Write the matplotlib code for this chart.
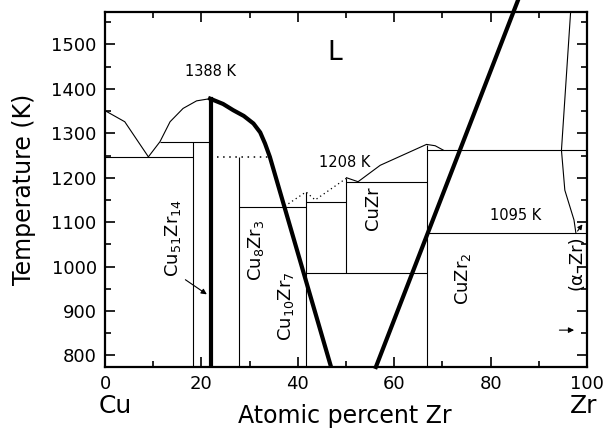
import numpy as np
import matplotlib
matplotlib.use("Agg")
import matplotlib.pyplot as plt
from matplotlib.ticker import MultipleLocator

# Cu-Zr phase diagram
# liquidus, Cu side to first eutectic
liq_cu_x = [0, 4.1, 9.0]
liq_cu_T = [1351, 1326, 1247]
# liquidus up to the Cu51Zr14 congruent point
liq_51_x = [9.0, 11.4, 13.5, 16.2, 19.0, 21.8]
liq_51_T = [1247, 1281, 1326, 1356, 1373, 1378]
# thick line (left), from the Cu51Zr14 peak downward
thick_l_x = [21.8, 24.5, 26.6, 28.8, 30.8, 32.2, 33.2, 34.2, 46.9]
thick_l_T = [1378, 1366, 1352, 1339, 1322, 1302, 1277, 1247, 774]
# thick line (right)
thick_r_x = [56.2, 85.7]
thick_r_T = [774, 1600]
# dotted liquidus part
liq_dot_x = [37.3, 41.7, 43.6, 50.1]
liq_dot_T = [1136, 1168, 1150, 1199]
# thin liquidus CuZr -> CuZr2
liq_mid_x = [50.1, 52.5, 57.1, 66.7, 68.5, 70.2]
liq_mid_T = [1200, 1191, 1228, 1275, 1272, 1262]
# Zr-side line
liq_zr_x = [96.6, 94.7, 95.4, 97.3, 97.7]
liq_zr_T = [1573, 1262, 1172, 1105, 1075]

# horizontal invariants (x start, x end, T)
h_x0 = [0, 11.4, 27.9, 41.7, 50.1, 41.7, 66.9, 66.9]
h_x1 = [18.3, 21.8, 41.7, 50.1, 66.9, 66.9, 100, 100]
h_T = [1247, 1281, 1133, 1146, 1190, 985, 1262, 1075]
# dotted invariant
hd_x = [23.2, 33.8]
hd_T = [1247, 1247]
# vertical compound lines (x, T bottom, T top)
v_x = [18.3, 27.9, 41.7, 50.1, 66.9]
v_T0 = [774, 774, 774, 985, 774]
v_T1 = [1281, 1247, 1168, 1200, 1273]
# Cu51Zr14 (thick)
c51_x = 21.9
c51_T = [774, 1378]

W, H = 607, 433
fig = plt.figure(figsize=(W / 100, H / 100), dpi=100)
ax = fig.add_axes([105 / W, 1 - 367 / H, (587 - 105) / W, (367 - 12) / H])

thin = dict(color="k", lw=0.8)
ax.plot(liq_cu_x, liq_cu_T, **thin)
ax.plot(liq_51_x, liq_51_T, **thin)
ax.plot(liq_mid_x, liq_mid_T, **thin)
ax.plot(liq_zr_x, liq_zr_T, **thin)
ax.plot(liq_dot_x, liq_dot_T, color="k", lw=0.9, ls=(0, (1, 2.5)))
ax.plot(hd_x, hd_T, color="k", lw=1.1, ls=(0, (1, 3)))
ax.hlines(h_T, h_x0, h_x1, **thin)
ax.vlines(v_x, v_T0, v_T1, **thin)

ax.plot([c51_x, c51_x], c51_T, color="k", lw=3)
ax.plot(thick_l_x, thick_l_T, color="k", lw=3, solid_joinstyle="round")
ax.plot(thick_r_x, thick_r_T, color="k", lw=3, clip_on=False)

# arrows
ax.annotate("", xy=(21.6, 934), xytext=(16.2, 974),
            arrowprops=dict(arrowstyle="-|>", color="k", lw=0.8, mutation_scale=8))
ax.annotate("", xy=(97.9, 857), xytext=(93.7, 857),
            arrowprops=dict(arrowstyle="-|>", color="k", lw=0.8, mutation_scale=8))
ax.annotate("", xy=(99.4, 1100), xytext=(97.7, 1075),
            arrowprops=dict(arrowstyle="-|>", color="k", lw=0.8, mutation_scale=7))

ax.set_xlim(0, 100)
ax.set_ylim(774, 1573)
ax.xaxis.set_major_locator(MultipleLocator(20))
ax.xaxis.set_minor_locator(MultipleLocator(10))
ax.yaxis.set_major_locator(MultipleLocator(100))
ax.yaxis.set_minor_locator(MultipleLocator(50))
ax.set_yticks(range(800, 1501, 100))
ax.tick_params(which="both", direction="in", top=True, right=True,
               labelsize=13, width=1.2)
ax.tick_params(which="major", length=7, pad=6)
ax.tick_params(which="minor", length=4)
for s in ax.spines.values():
    s.set_linewidth(1.6)

ax.set_ylabel("Temperature (K)", fontsize=17, labelpad=11)
fig.text(345 / W, 1 - 416 / H, "Atomic percent Zr", fontsize=17, ha="center", va="center")
fig.text(115 / W, 1 - 406 / H, "Cu", fontsize=18, ha="center", va="center")
fig.text(584 / W, 1 - 406 / H, "Zr", fontsize=18, ha="center", va="center")

ax.text(21.8, 1440, "1388 K", fontsize=10.5, ha="center", va="center")
ax.text(49.8, 1234, "1208 K", fontsize=10.5, ha="center", va="center")
ax.text(85.1, 1114, "1095 K", fontsize=10.5, ha="center", va="center")
ax.text(47.7, 1481, "L", fontsize=19, ha="center", va="center")

rot = dict(rotation=90, ha="center", va="center", fontsize=13)
ax.text(14.2, 1064, r"Cu$_{51}$Zr$_{14}$", **rot)
ax.text(31.3, 1037, r"Cu$_8$Zr$_3$", **rot)
ax.text(37.5, 911, r"Cu$_{10}$Zr$_7$", **rot)
ax.text(55.6, 1132, "CuZr", **rot)
ax.text(74.3, 972, r"CuZr$_2$", **rot)
ax.text(97.9, 1008, "(α–Zr)", **rot)

fig.savefig("out.png", dpi=100)
